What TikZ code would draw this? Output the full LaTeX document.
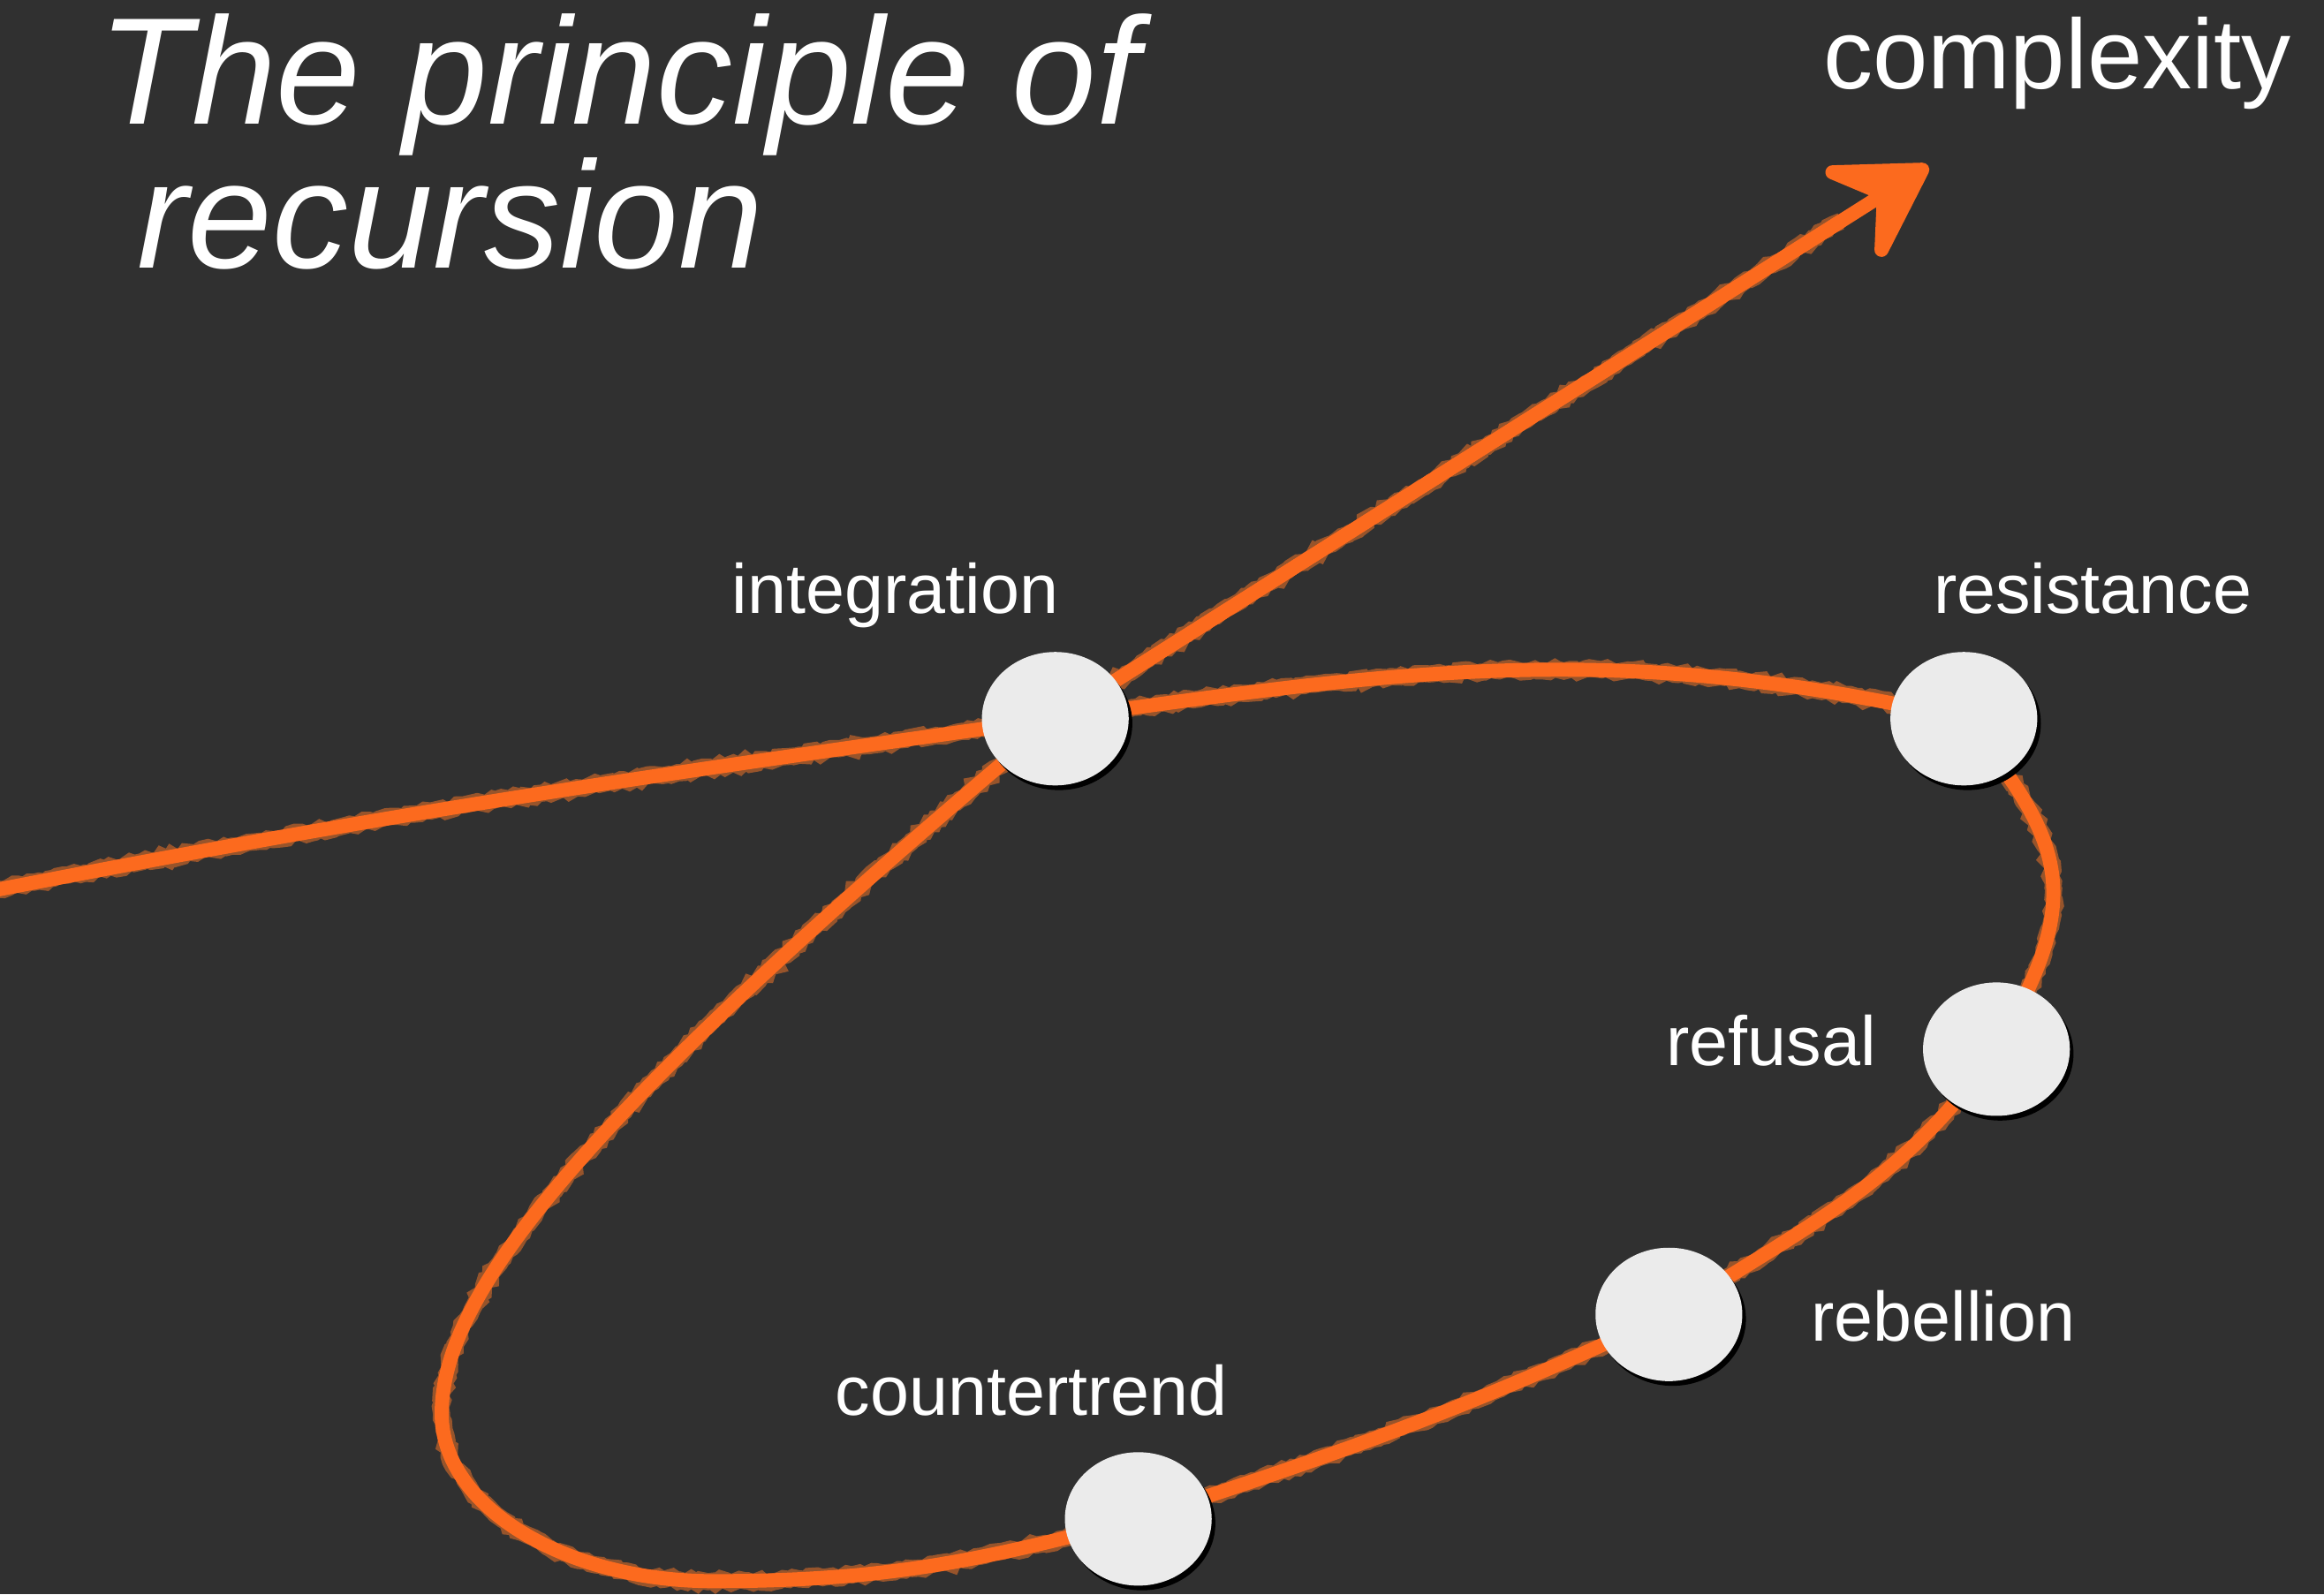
\documentclass[tikz,border=0pt]{standalone}
\usepackage{fontspec}
\setmainfont{Liberation Sans}
\usetikzlibrary{arrows.meta,shapes.geometric,shadows,decorations.pathmorphing,calc}
\definecolor{bgcol}{RGB}{48,48,48}
\definecolor{chalk}{RGB}{252,106,30}
\definecolor{chalklight}{RGB}{255,120,40}
\definecolor{dotfill}{RGB}{235,235,235}
\pgfdeclarelayer{bg}
\pgfsetlayers{bg,main}
\tikzset{
  dotnode/.style={ellipse, fill=dotfill, minimum width=0.99cm, minimum height=0.90cm, inner sep=0pt,
    drop shadow={shadow xshift=0.7pt, shadow yshift=-0.9pt, fill=black, opacity=1}},
  lbl/.style={text=white, font=\fontsize{13.4}{16}\selectfont, anchor=base, inner sep=0pt},
  titletext/.style={text=white, font=\fontsize{29.2}{34}\selectfont\itshape, anchor=base west, inner sep=0pt},
  chalkline/.style={draw=chalk, line width=2.7pt, line cap=round,
    preaction={draw=chalklight, opacity=0.5, line width=3.3pt, decorate,
      decoration={random steps, segment length=1pt, amplitude=0.45pt}}},
}
\begin{document}
\pgfmathsetseed{7}
\begin{tikzpicture}[x=0.01cm,y=0.01cm]
\useasboundingbox (0,0) rectangle (1568,1076);
% nodes
\node[dotnode] (int) at (712,591) {};
\node[dotnode] (res) at (1325,591) {};
\node[dotnode] (ref) at (1347,368) {};
\node[dotnode] (reb) at (1126,189) {};
\node[dotnode] (ctr) at (768,51) {};
\coordinate (s) at (-5,475);
\coordinate (b) at (481,9);
\coordinate (l) at (298,122);
\coordinate (tip) at (1301,964);
% labels
\node[lbl] (lint) at (604,662) {integration};
\node[lbl] (lres) at (1412,662) {resistance};
\node[lbl] (lref) at (1195,357) {refusal};
\node[lbl] (lreb) at (1311,171) {rebellion};
\node[lbl] (lctr) at (696,121) {countertrend};
\node[text=white, font=\fontsize{19}{22}\selectfont, anchor=base, inner sep=0pt] (cx) at (1388,1016) {complexity};
\node[titletext] (t1) at (66,992) {The principle of};
\node[titletext] (t2) at (92,895) {recursion};
\begin{pgfonlayer}{bg}
\fill[bgcol] (0,0) rectangle (1568,1076);
\draw[chalkline] (s) to[out=11,in=188] (int.center)
  to[out=8,in=167] (res.center)
  to[out=-50,in=60,looseness=1.3] (ref.center)
  to[out=235,in=33] (reb.center)
  to[out=205,in=18] (ctr.center)
  to[out=195,in=0] (b)
  .. controls +(180:101) and +(-90:62) .. (l)
  .. controls +(90:80) and +(220:420) .. (int.center);
\draw[chalkline] (int.center) -- ($(int.center)!0.9!(tip)$);
\draw[draw=chalk, line width=2.7pt, -{Stealth[length=22pt,width=26pt,inset=9pt,round]}] (int.center) -- (tip);
\end{pgfonlayer}
\end{tikzpicture}
\end{document}
